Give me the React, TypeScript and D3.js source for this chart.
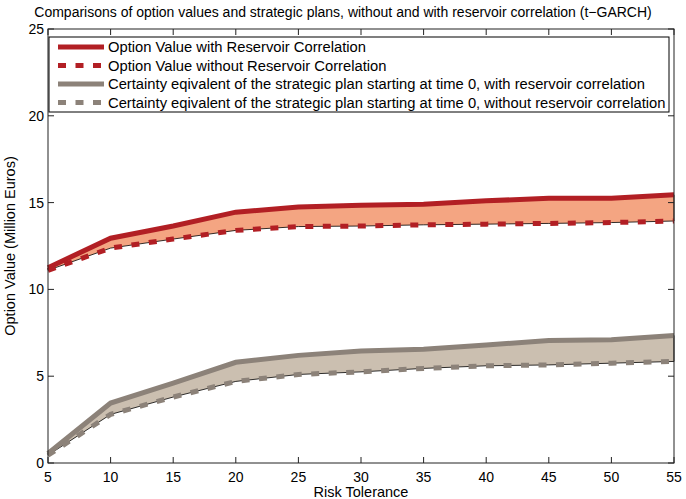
import * as d3 from "d3";
import { useEffect, useRef } from "react";

const riskTolerance = [5, 10, 15, 20, 25, 30, 35, 40, 45, 50, 55];
const optionWithCorr = [11.25, 12.95, 13.65, 14.45, 14.75, 14.85, 14.9, 15.1, 15.25, 15.25, 15.45];
const optionWithoutCorr = [11.1, 12.38, 12.9, 13.4, 13.62, 13.65, 13.72, 13.76, 13.8, 13.85, 13.94];
const ceWithCorr = [0.55, 3.45, 4.6, 5.8, 6.2, 6.45, 6.55, 6.8, 7.05, 7.1, 7.35];
const ceWithoutCorr = [0.45, 2.8, 3.8, 4.7, 5.1, 5.25, 5.45, 5.6, 5.65, 5.75, 5.85];
const xTicks = [5, 10, 15, 20, 25, 30, 35, 40, 45, 50, 55];
const yTicks = [0, 5, 10, 15, 20, 25];
const legendLabels = [
  "Option Value with Reservoir Correlation",
  "Option Value without Reservoir Correlation",
  "Certainty eqivalent of the strategic plan starting at time 0, with reservoir correlation",
  "Certainty eqivalent of the strategic plan starting at time 0, without reservoir correlation",
];

const RED = "#b21f24";
const RED_FILL = "#f4a582";
const GRAY = "#8c8279";
const GRAY_FILL = "#cbbfb0";

function App() {
  const ref = useRef<SVGSVGElement>(null);

  useEffect(() => {
    const svg = d3.select(ref.current);
    svg.selectAll("*").remove();

    // plot box in page pixels
    const margin = { top: 29, right: 12, bottom: 36, left: 48 };
    const W = 686, H = 499;
    const width = W - margin.left - margin.right;
    const height = H - margin.top - margin.bottom;
    const font = "'Liberation Sans', Arial, Helvetica, sans-serif";

    const x = d3.scaleLinear().domain([5, 55]).range([0, width]);
    const y = d3.scaleLinear().domain([0, 25]).range([height, 0]);

    const g = svg.append("g").attr("transform", `translate(${margin.left},${margin.top})`);

    const pts = (a: number[], b: number[]) => riskTolerance.map((r, i) => ({ r, hi: a[i], lo: b[i] }));

    const area = d3
      .area<{ r: number; hi: number; lo: number }>()
      .x((d) => x(d.r))
      .y0((d) => y(d.lo))
      .y1((d) => y(d.hi));

    const line = d3
      .line<number>()
      .x((d, i) => x(riskTolerance[i]))
      .y((d) => y(d));

    // filled bands between the curves
    const bands = [
      { a: optionWithCorr, b: optionWithoutCorr, fill: RED_FILL },
      { a: ceWithCorr, b: ceWithoutCorr, fill: GRAY_FILL },
    ];
    bands.forEach((bd) => {
      g.append("path")
        .attr("d", area(pts(bd.a, bd.b)))
        .attr("fill", bd.fill)
        .attr("stroke", "#000")
        .attr("stroke-width", 0.8);
    });

    const series = [
      { data: optionWithCorr, color: RED, dash: null },
      { data: optionWithoutCorr, color: RED, dash: "8,9.5" },
      { data: ceWithCorr, color: GRAY, dash: null },
      { data: ceWithoutCorr, color: GRAY, dash: "8,9.5" },
    ];
    series.forEach((s) => {
      g.append("path")
        .attr("d", line(s.data))
        .attr("fill", "none")
        .attr("stroke", s.color)
        .attr("stroke-width", 5)
        .attr("stroke-dasharray", s.dash);
    });

    // axes box with inward ticks on all sides
    g.append("rect")
      .attr("width", width)
      .attr("height", height)
      .attr("fill", "none")
      .attr("stroke", "#222")
      .attr("stroke-width", 1);

    const tk = 6;
    xTicks.forEach((t) => {
      g.append("line").attr("x1", x(t)).attr("x2", x(t)).attr("y1", height).attr("y2", height - tk).attr("stroke", "#222");
      g.append("line").attr("x1", x(t)).attr("x2", x(t)).attr("y1", 0).attr("y2", tk).attr("stroke", "#222");
      g.append("text")
        .attr("x", x(t))
        .attr("y", height + 19)
        .attr("text-anchor", "middle")
        .style("font-family", font)
        .style("font-size", "14px")
        .text(t);
    });
    yTicks.forEach((t) => {
      g.append("line").attr("x1", 0).attr("x2", tk).attr("y1", y(t)).attr("y2", y(t)).attr("stroke", "#222");
      g.append("line").attr("x1", width).attr("x2", width - tk).attr("y1", y(t)).attr("y2", y(t)).attr("stroke", "#222");
      g.append("text")
        .attr("x", -4)
        .attr("y", y(t) + 5)
        .attr("text-anchor", "end")
        .style("font-family", font)
        .style("font-size", "14px")
        .text(t);
    });

    // labels
    g.append("text")
      .attr("x", width / 2)
      .attr("y", height + 34)
      .attr("text-anchor", "middle")
      .style("font-family", font)
      .style("font-size", "14.5px")
      .text("Risk Tolerance");
    g.append("text")
      .attr("transform", `translate(${-33},${height / 2}) rotate(-90)`)
      .attr("text-anchor", "middle")
      .style("font-family", font)
      .style("font-size", "14.5px")
      .text("Option Value (Million Euros)");
    g.append("text")
      .attr("x", 343 - margin.left)
      .attr("y", -12)
      .attr("text-anchor", "middle")
      .style("font-family", font)
      .style("font-size", "14px")
      .text("Comparisons of option values and strategic plans, without and with reservoir correlation (t\u2212GARCH)");

    // legend
    const legend = g.append("g").attr("transform", "translate(1,8)");
    legend
      .append("rect")
      .attr("width", 620)
      .attr("height", 75)
      .attr("fill", "#fff")
      .attr("stroke", "#000")
      .attr("stroke-width", 1);
    legendLabels.forEach((lab, i) => {
      const ly = 10 + i * 18.5;
      legend
        .append("line")
        .attr("x1", 9)
        .attr("x2", 55)
        .attr("y1", ly)
        .attr("y2", ly)
        .attr("stroke", series[i].color)
        .attr("stroke-width", 5)
        .attr("stroke-dasharray", series[i].dash);
      legend
        .append("text")
        .attr("x", 59)
        .attr("y", ly + 5)
        .style("font-family", font)
        .style("font-size", "14.75px")
        .text(lab);
    });
  }, []);

  return (
    <svg
      ref={ref}
      width={686}
      height={499}
      style={{ position: "absolute", left: 0, top: 0, background: "#fff" }}
    />
  );
}

export default App;
